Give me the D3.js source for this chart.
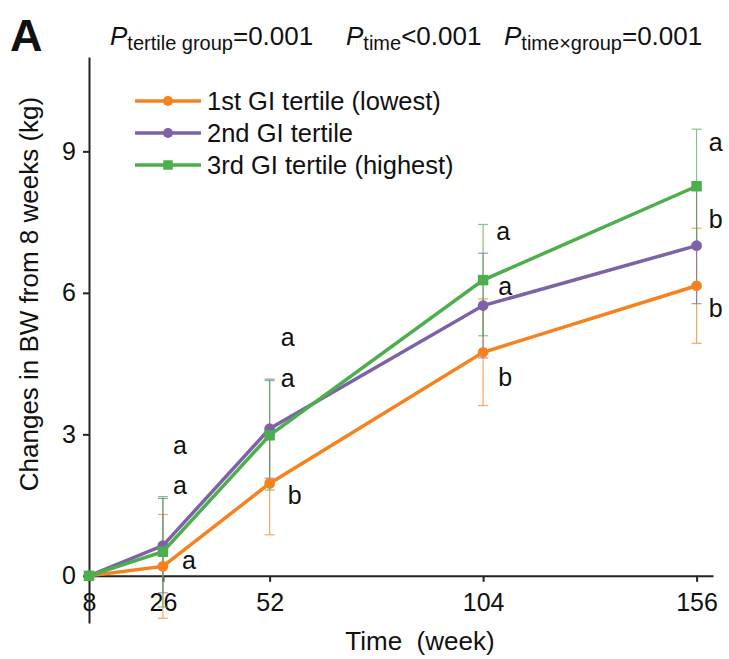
<html>
<head>
<style>
body { margin: 0; background: #fff; }
text { font-family: Arial, "Liberation Sans", sans-serif; fill: #111; }
</style>
<script src="https://d3js.org/d3.v7.min.js"></script>
</head>
<body>
<script>
// data
var weeks = [8, 26, 52, 104, 156];
var seriesNames = ["1st GI tertile (lowest)", "2nd GI tertile", "3rd GI tertile (highest)"];
var colors = ["#f5821f", "#7e62a8", "#4cae4c"];
var symbols = ["circle", "circle", "square"];
var meanLow = [0, 0.2, 1.96, 4.74, 6.15];
var meanMid = [0, 0.64, 3.12, 5.73, 7.0];
var meanHigh = [0, 0.51, 2.98, 6.27, 8.26];
var sdLow = [0, 1.1, 1.09, 1.13, 1.22];
var sdMid = [0, 1.0, 1.05, 1.11, 1.23];
var sdHigh = [0, 1.17, 1.16, 1.18, 1.21];
var yTicks = [0, 3, 6, 9];
var xTicks = [8, 26, 52, 104, 156];
// letter annotations: week, y value, letter
var letters = [
  [26, 2.77, "a"], [26, 1.92, "a"], [26, 0.34, "a"],
  [52, 5.05, "a"], [52, 4.18, "a"], [52, 1.71, "b"],
  [104, 7.31, "a"], [104, 6.15, "a"], [104, 4.21, "b"],
  [156, 9.19, "a"], [156, 7.56, "b"], [156, 5.68, "b"]
];
var letterDx = [
  17, 17, 26,
  18, 18, 25,
  20, 22, 22,
  19, 19, 19
];

var means = [meanLow, meanMid, meanHigh];
var sds = [sdLow, sdMid, sdHigh];

var width = 729, height = 659;
var svg = d3.select("body").append("svg")
  .attr("width", width)
  .attr("height", height);

var x = d3.scaleLinear().domain([8, 160]).range([89, 713]);
var y = d3.scaleLinear().domain([-1, 11]).range([623, 57]);

// axes
var xAxis = svg.append("g")
  .attr("transform", "translate(0," + y(0) + ")")
  .call(d3.axisBottom(x).tickValues(xTicks).tickSize(6).tickSizeOuter(0).tickPadding(11));
xAxis.select(".domain").attr("stroke", "#222").attr("stroke-width", 2);
xAxis.selectAll(".tick line").attr("stroke", "#222").attr("stroke-width", 2);
xAxis.selectAll(".tick text").attr("font-size", 25).attr("font-family", "Arial, 'Liberation Sans', sans-serif").attr("fill", "#111");

var yAxis = svg.append("g")
  .attr("transform", "translate(" + x(8) + ",0)")
  .call(d3.axisLeft(y).tickValues(yTicks).tickSize(6).tickSizeOuter(0).tickPadding(7));
yAxis.select(".domain").attr("stroke", "#222").attr("stroke-width", 2);
yAxis.selectAll(".tick line").attr("stroke", "#222").attr("stroke-width", 2);
yAxis.selectAll(".tick text").attr("font-size", 25).attr("font-family", "Arial, 'Liberation Sans', sans-serif").attr("fill", "#111");

// error bars
means.forEach(function(m, s) {
  var g = svg.append("g").attr("stroke", colors[s]).attr("stroke-width", 1.2).attr("opacity", 0.7);
  weeks.forEach(function(w, i) {
    if (sds[s][i] === 0) return;
    var lo = m[i] - sds[s][i], hi = m[i] + sds[s][i];
    g.append("line").attr("x1", x(w)).attr("x2", x(w)).attr("y1", y(lo)).attr("y2", y(hi));
    g.append("line").attr("x1", x(w) - 5).attr("x2", x(w) + 5).attr("y1", y(lo)).attr("y2", y(lo));
    g.append("line").attr("x1", x(w) - 5).attr("x2", x(w) + 5).attr("y1", y(hi)).attr("y2", y(hi));
  });
});

// lines and markers
var line = d3.line().x(function(d, i) { return x(weeks[i]); }).y(function(d) { return y(d); });
means.forEach(function(m, s) {
  svg.append("path").datum(m)
    .attr("d", line)
    .attr("fill", "none")
    .attr("stroke", colors[s])
    .attr("stroke-width", 3.5);
  var sym = d3.symbol().type(symbols[s] === "square" ? d3.symbolSquare : d3.symbolCircle).size(symbols[s] === "square" ? 110 : 90);
  svg.append("g").selectAll("path").data(m).enter().append("path")
    .attr("d", sym)
    .attr("transform", function(d, i) { return "translate(" + x(weeks[i]) + "," + y(d) + ")"; })
    .attr("fill", colors[s]);
});

// letters
svg.append("g").selectAll("text").data(letters).enter().append("text")
  .attr("x", function(d, i) { return x(d[0]) + letterDx[i]; })
  .attr("y", function(d) { return y(d[1]); })
  .attr("dy", "0.35em")
  .attr("text-anchor", "middle")
  .attr("font-size", 25)
  .text(function(d) { return d[2]; });

// legend
var legend = svg.append("g");
seriesNames.forEach(function(name, s) {
  var ly = 101 + s * 32;
  legend.append("line").attr("x1", 135).attr("x2", 201).attr("y1", ly).attr("y2", ly)
    .attr("stroke", colors[s]).attr("stroke-width", 3.5);
  var sym = d3.symbol().type(symbols[s] === "square" ? d3.symbolSquare : d3.symbolCircle).size(symbols[s] === "square" ? 90 : 80);
  legend.append("path").attr("d", sym).attr("transform", "translate(168," + ly + ")").attr("fill", colors[s]);
  legend.append("text").attr("x", 207).attr("y", ly).attr("dy", "0.35em").attr("font-size", 25.5).text(name);
});

// axis titles
svg.append("text")
  .attr("x", 420).attr("y", 650)
  .attr("text-anchor", "middle")
  .attr("font-size", 26)
  .text("Time \u00a0(week)");

svg.append("text")
  .attr("transform", "translate(38,294) rotate(-90)")
  .attr("text-anchor", "middle")
  .attr("font-size", 26)
  .text("Changes in BW from 8 weeks (kg)");

// panel letter
svg.append("text").attr("x", 10).attr("y", 51)
  .attr("font-size", 45).attr("font-weight", "bold").text("A");

// P values
var pvals = [[110, "tertile group", "=0.001"], [346, "time", "<0.001"], [504, "time\u00d7group", "=0.001"]];
pvals.forEach(function(p) {
  var t = svg.append("text").attr("x", p[0]).attr("y", 45).attr("font-size", 26);
  t.append("tspan").attr("font-style", "italic").text("P");
  t.append("tspan").attr("font-size", 20).attr("dy", 5).text(p[1]);
  t.append("tspan").attr("dy", -5).text(p[2]);
});
</script>
</body>
</html>
